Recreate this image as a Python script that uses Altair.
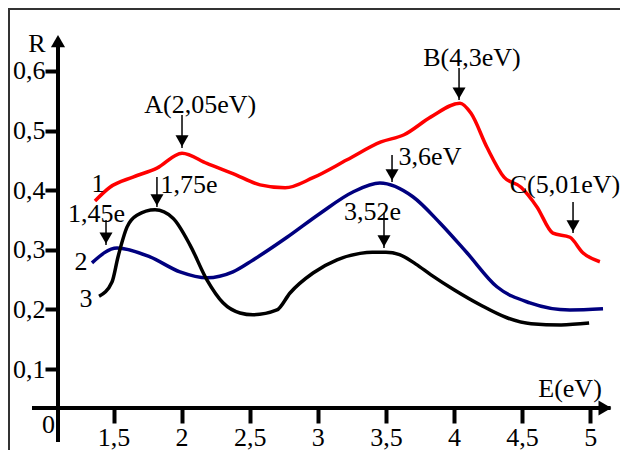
import altair as alt
import pandas as pd

# ---- curve data (E in eV, R) ----
red_E = [1.364, 1.474, 1.643, 1.819, 2.003, 2.186, 2.377, 2.576, 2.76, 2.965, 3.215, 3.464, 3.633,
         3.831, 4.044, 4.125, 4.242, 4.367, 4.492, 4.609, 4.726, 4.851, 4.946, 5.071]
red_R = [0.382, 0.405, 0.422, 0.437, 0.462, 0.445, 0.428, 0.409, 0.404, 0.421, 0.451, 0.481, 0.493,
         0.523, 0.546, 0.529, 0.472, 0.422, 0.405, 0.372, 0.328, 0.321, 0.295, 0.280]

blue_E = [1.342, 1.526, 1.768, 1.988, 2.187, 2.377, 2.525, 2.774, 3.016, 3.258, 3.456, 3.698,
          3.897, 4.095, 4.315, 4.557, 4.851, 5.094]
blue_R = [0.278, 0.303, 0.288, 0.263, 0.253, 0.263, 0.283, 0.321, 0.361, 0.397, 0.412, 0.389,
          0.345, 0.295, 0.238, 0.211, 0.199, 0.201]

black_E = [1.394, 1.489, 1.533, 1.599, 1.672, 1.805, 1.937, 2.062, 2.187, 2.304, 2.429, 2.524,
           2.70, 2.796, 2.965, 3.141, 3.31, 3.40, 3.50, 3.60, 3.72, 3.831, 4.0, 4.198, 4.389,
           4.566, 4.786, 4.992]
black_R = [0.222, 0.246, 0.288, 0.338, 0.358, 0.367, 0.353, 0.308, 0.249, 0.211, 0.194, 0.191,
           0.199, 0.2275, 0.261, 0.283, 0.294, 0.296, 0.296, 0.292, 0.276, 0.258, 0.233, 0.207, 0.186,
           0.176, 0.174, 0.177]

series_names = ["1", "2", "3"]
series_colors = ["#ff0000", "#00007f", "#000000"]

x_ticks = [1.5, 2, 2.5, 3, 3.5, 4, 4.5, 5]
y_ticks = [0.1, 0.2, 0.3, 0.4, 0.5, 0.6]

# ---- annotations ----
ann_text = ["A(2,05eV)", "B(4,3eV)", "C(5,01eV)", "3,6eV", "3,52e", "1,75e", "1,45e"]
ann_text_E = [2.137, 4.132, 4.815, 3.824, 3.402, 2.054, 1.375]
ann_text_R = [0.5295, 0.608, 0.395, 0.442, 0.350, 0.395, 0.3467]
arrow_E = [2.003, 4.037, 4.874, 3.545, 3.486, 1.819, 1.445]
arrow_top = [0.526, 0.605, 0.380, 0.459, 0.362, 0.422, 0.350]
arrow_tip = [0.4708, 0.5513, 0.3282, 0.4138, 0.303, 0.3718, 0.308]

lab_text = ["1", "2", "3", "R", "E(eV)", "0"]
lab_E = [1.386, 1.261, 1.298, 0.938, 4.852, 1.023]
lab_R = [0.397, 0.266, 0.2047, 0.632, 0.053, -0.0074]

# axis lines
xaxis_E = [0.9016, 5.15]
xaxis_R = 0.0346
yaxis_E = 1.0925
yaxis_R = [-0.0225, 0.65]
xarrow_tip = [5.167]
yarrow_tip = [0.6637]

FONT = "Liberation Serif"
FS = 26
W, H = 612, 442
xs = alt.Scale(domain=[0.7254, 5.2188], nice=False, zero=False)
ys = alt.Scale(domain=[-0.0359, 0.7057], nice=False, zero=False)

x_axis = alt.Axis(
    values=x_ticks, title=None, domain=False, grid=False, offset=-42,
    tickSize=15, tickWidth=4, tickColor="black", labelFont=FONT, labelFontSize=FS,
    labelColor="black", labelPadding=1, labelFlush=False, labelOverlap=False,
    labelExpr="replace(format(datum.value, '~g'), '.', ',')")
y_axis = alt.Axis(
    values=y_ticks, title=None, domain=False, grid=False, offset=-50,
    tickSize=13, tickWidth=4, tickColor="black", labelFont=FONT, labelFontSize=FS,
    labelColor="black", labelPadding=0, labelFlush=False, labelOverlap=False,
    labelExpr="replace(format(datum.value, '.1f'), '.', ',')")


def X(field="E"):
    return alt.X(f"{field}:Q", scale=xs, axis=x_axis)


def Y(field="R"):
    return alt.Y(f"{field}:Q", scale=ys, axis=y_axis)


rows = []
for name, Es, Rs in zip(series_names, [red_E, blue_E, black_E], [red_R, blue_R, black_R]):
    for e, r in zip(Es, Rs):
        rows.append({"E": e, "R": r, "s": name})
curves = pd.DataFrame(rows)

lines = alt.Chart(curves).mark_line(interpolate="monotone", strokeWidth=3.5).encode(
    x=X(), y=Y(),
    color=alt.Color("s:N", scale=alt.Scale(domain=series_names, range=series_colors), legend=None),
    detail="s:N",
)

ann_t = pd.DataFrame({"t": ann_text, "E": ann_text_E, "R": ann_text_R})
ann_a = pd.DataFrame({"E": arrow_E, "R": arrow_top, "R2": arrow_tip})
ann_h = pd.DataFrame({"E": arrow_E, "R": arrow_tip})

ann_txt = alt.Chart(ann_t).mark_text(font=FONT, fontSize=FS, color="black", align="center",
                                     baseline="alphabetic").encode(x=X(), y=Y(), text="t:N")

shafts = alt.Chart(ann_a).mark_rule(color="black", strokeWidth=1.5).encode(
    x=X(), y=Y(), y2="R2:Q")

heads = alt.Chart(ann_h).mark_point(shape="triangle-down", filled=True, color="black",
                                    size=170, opacity=1).encode(
    x=X(), y=Y(), yOffset=alt.value(-7))

labs = alt.Chart(pd.DataFrame({"t": lab_text, "E": lab_E, "R": lab_R})).mark_text(
    font=FONT, fontSize=FS, color="black", align="center", baseline="alphabetic").encode(
    x=X(), y=Y(), text="t:N")

xaxis = alt.Chart(pd.DataFrame({"E": [xaxis_E[0]], "E2": [xaxis_E[1]], "R": [xaxis_R]})).mark_rule(
    color="black", strokeWidth=4).encode(x=X(), x2="E2:Q", y=Y())

yaxis = alt.Chart(pd.DataFrame({"E": [yaxis_E], "R": [yaxis_R[0]], "R2": [yaxis_R[1]]})).mark_rule(
    color="black", strokeWidth=4).encode(x=X(), y=Y(), y2="R2:Q")

xhead = alt.Chart(pd.DataFrame({"E": xarrow_tip, "R": [xaxis_R]})).mark_point(
    shape="triangle-right", filled=True, color="black", size=220, opacity=1).encode(
    x=X(), y=Y(), xOffset=alt.value(-8))

yhead = alt.Chart(pd.DataFrame({"E": [yaxis_E], "R": yarrow_tip})).mark_point(
    shape="triangle-up", filled=True, color="black", size=200, opacity=1).encode(
    x=X(), y=Y(), yOffset=alt.value(8))

frame_src = pd.DataFrame({"a": [0]})
frame_top = alt.Chart(frame_src).mark_rule(color="#333333", strokeWidth=2).encode(
    x=alt.value(0), x2=alt.value(W), y=alt.value(1))
frame_left = alt.Chart(frame_src).mark_rule(color="#333333", strokeWidth=2).encode(
    x=alt.value(1), y=alt.value(0), y2=alt.value(H))

chart = alt.layer(
    lines, xaxis, yaxis, xhead, yhead, shafts, heads, ann_txt, labs, frame_top, frame_left
).properties(width=W, height=H, autosize=alt.AutoSizeParams(type="none"), padding=0
).configure_view(stroke=None)

chart.save("out.html", embed_options={"renderer": "svg", "actions": False})
